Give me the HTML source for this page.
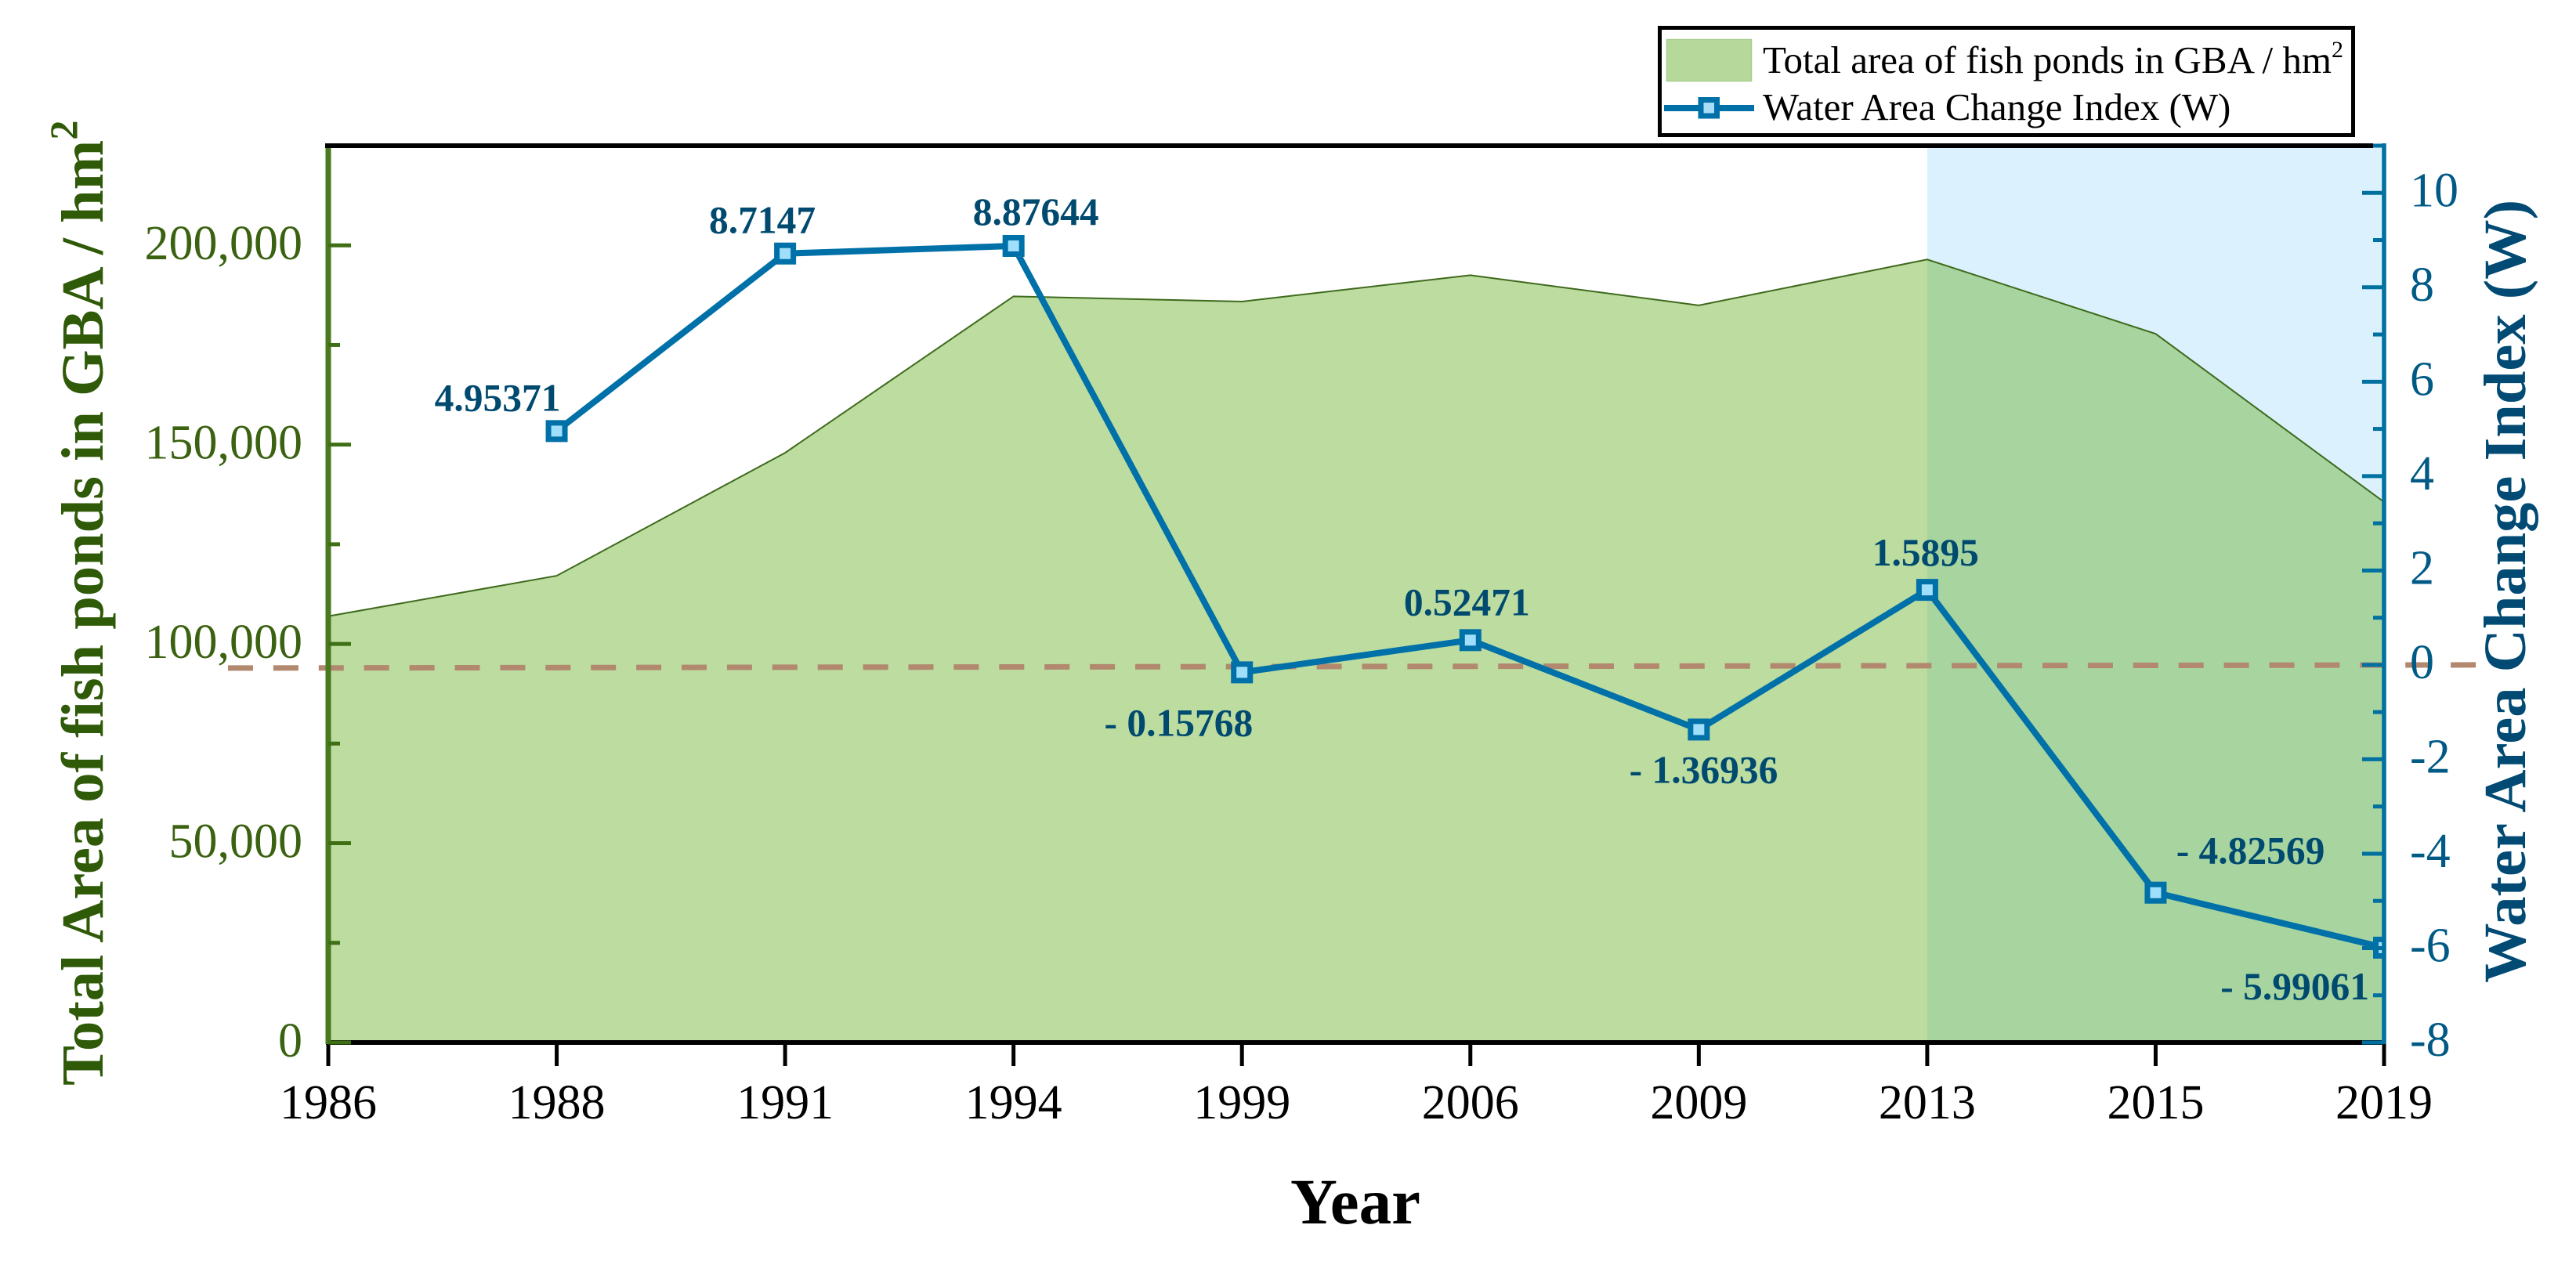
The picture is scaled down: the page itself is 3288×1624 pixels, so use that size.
<!DOCTYPE html>
<html lang="en">
<head>
<meta charset="utf-8">
<title>Fish pond area and Water Area Change Index</title>
<style>
html,body{margin:0;padding:0;background:#fff;width:3288px;height:1624px;overflow:hidden}
svg{display:block}
text{font-family:"Liberation Serif",serif}
</style>
</head>
<body>
<svg id="chart" xmlns="http://www.w3.org/2000/svg" width="3288" height="1624" viewBox="0 0 3288 1624">
<defs><clipPath id="plot-clip"><rect x="415" y="180" width="2628" height="1160"/></clipPath></defs>
<rect x="0" y="0" width="3288" height="1624" fill="#fff"/>
<g id="plot"></g>
<text transform="translate(131,1386) rotate(-90)" font-size="76.5" font-weight="bold" fill="#2f5a08">Total Area of fish ponds in GBA / hm<tspan dy="-33" font-size="50">2</tspan></text>
<text transform="translate(3223,1255) rotate(-90)" font-size="76.5" font-weight="bold" fill="#004a74">Water Area Change Index (W)</text>
<text x="1730" y="1562" text-anchor="middle" font-size="83" font-weight="bold" fill="#000">Year</text>
<g>
<rect x="2118.5" y="35.5" width="885" height="137" fill="#fff" stroke="#000" stroke-width="5"/>
<rect x="2127.5" y="50.5" width="108" height="53" fill="#b6d99b" stroke="#a8cd8e" stroke-width="1.5"/>
<text x="2250" y="93" font-size="49" fill="#000">Total area of fish ponds in GBA / hm<tspan dy="-20" font-size="30">2</tspan></text>
<line x1="2124" y1="138" x2="2239" y2="138" stroke="#0070a8" stroke-width="8"/>
<rect x="2171" y="127.500" width="20.500" height="20.500" fill="#a8dcf9" stroke="#0070a8" stroke-width="7"/>
<text x="2250" y="153" font-size="49" fill="#000">Water Area Change Index (W)</text>
</g>
</svg>
<script>
const years = ['1986','1988','1991','1994','1999','2006','2009','2013','2015','2019'];
const pondArea = [106950,117100,147950,187200,185900,192500,184950,196450,177800,135600];
const waterIndexYears = ['1988','1991','1994','1999','2006','2009','2013','2015','2019'];
const waterIndex = [4.95371,8.7147,8.87644,-0.15768,0.52471,-1.36936,1.5895,-4.82569,-5.99061];
const waterIndexLabels = ['4.95371','8.7147','8.87644','- 0.15768','0.52471','- 1.36936','1.5895','- 4.82569','- 5.99061'];
const leftTickValues = [0,50000,100000,150000,200000];
const leftTickLabels = ['0','50,000','100,000','150,000','200,000'];
const leftMinorValues = [25000,75000,125000,175000];
const rightTickValues = [-8,-6,-4,-2,0,2,4,6,8,10];
const rightTickLabels = ['-8','-6','-4','-2','0','2','4','6','8','10'];
const rightMinorValues = [-7,-5,-3,-1,1,3,5,7,9,11];
const highlightStartYear = '2013';

const PLOT = {left:419, right:3043, top:186, bottom:1331};
const LEFT_DOMAIN = [0,225000];
const RIGHT_DOMAIN = [-8,11];
const NS = 'http://www.w3.org/2000/svg';
const plot = document.getElementById('plot');

function xScale(year){
  return PLOT.left + years.indexOf(year) * (PLOT.right - PLOT.left) / (years.length - 1);
}
function yLeft(v){
  return PLOT.bottom - (v - LEFT_DOMAIN[0]) / (LEFT_DOMAIN[1] - LEFT_DOMAIN[0]) * (PLOT.bottom - PLOT.top);
}
function yRight(v){
  return PLOT.bottom - (v - RIGHT_DOMAIN[0]) / (RIGHT_DOMAIN[1] - RIGHT_DOMAIN[0]) * (PLOT.bottom - PLOT.top);
}
function make(tag, attrs, parent, text){
  const el = document.createElementNS(NS, tag);
  for (const k in attrs) el.setAttribute(k, attrs[k]);
  if (text !== undefined) el.textContent = text;
  (parent || plot).appendChild(el);
  return el;
}

/* highlight band */
const band = make('rect', {x:xScale(highlightStartYear), y:PLOT.top-3, width:PLOT.right-xScale(highlightStartYear), height:PLOT.bottom-PLOT.top+3, fill:'#dbf1fd'});



/* area series */
const areaTop = years.map((y,i) => xScale(y) + ',' + yLeft(pondArea[i]));
const area = make('polygon', {
  points: xScale(years[0]) + ',' + yLeft(0) + ' ' + areaTop.join(' ') + ' ' + xScale(years[years.length-1]) + ',' + yLeft(0),
  fill:'rgb(95,171,29)', 'fill-opacity':'0.42'
});


const areaEdge = make('polyline', {points:areaTop.join(' '), fill:'none', stroke:'#3f6a1c', 'stroke-width':'2'});



/* zero reference line */
const zeroLine = make('line', {x1:291, y1:yRight(0)+4, x2:3191, y2:yRight(0), stroke:'#b2886e', 'stroke-width':'7', 'stroke-dasharray':'32 25.9'});



/* x axis ticks and labels */
years.forEach(y => {
  const tick = make('line', {x1:xScale(y), y1:PLOT.bottom, x2:xScale(y), y2:PLOT.bottom+30, stroke:'#000', 'stroke-width':'5'});
  
  
  const label = make('text', {x:xScale(y), y:1428, 'text-anchor':'middle', 'font-size':'62', fill:'#000'}, plot, y);
  
  
});

/* frame lines */
const topLine = make('line', {x1:415, y1:PLOT.top, x2:3029, y2:PLOT.top, stroke:'#000', 'stroke-width':'6'});


const bottomLine = make('line', {x1:416, y1:PLOT.bottom, x2:3040, y2:PLOT.bottom, stroke:'#000', 'stroke-width':'6'});



/* left axis */
const leftAxis = make('line', {x1:PLOT.left, y1:PLOT.top+3, x2:PLOT.left, y2:PLOT.bottom+2, stroke:'#4a7a1f', 'stroke-width':'7'});


leftTickValues.forEach((v,i) => {
  const tick = make('line', {x1:PLOT.left, y1:yLeft(v), x2:PLOT.left+29, y2:yLeft(v), stroke:'#3f6f14', 'stroke-width':'5'});
  
  
  const label = make('text', {x:386, y:yLeft(v)+18, 'text-anchor':'end', 'font-size':'62', fill:'#3a6210'}, plot, leftTickLabels[i]);
  
  
});
leftMinorValues.forEach(v => {
  const tick = make('line', {x1:PLOT.left, y1:yLeft(v), x2:PLOT.left+15, y2:yLeft(v), stroke:'#3f6f14', 'stroke-width':'5'});
  
  
});

/* water index line + markers, clipped at the right axis */
const series = make('g', {'clip-path':'url(#plot-clip)'});


const waterLine = make('polyline', {
  points: waterIndexYears.map((y,i) => xScale(y) + ',' + yRight(waterIndex[i])).join(' '),
  fill:'none', stroke:'#0070a8', 'stroke-width':'8', 'stroke-linejoin':'round'
}, series);


waterIndexYears.forEach((y,i) => {
  const marker = make('rect', {x:xScale(y)-10.5, y:yRight(waterIndex[i])-10.5, width:21, height:21, fill:'#9fdffc', stroke:'#0070a8', 'stroke-width':'7'}, series);
  
  
});

/* right axis */
rightTickValues.forEach((v,i) => {
  const tick = make('line', {x1:PLOT.right-28, y1:yRight(v), x2:PLOT.right, y2:yRight(v), stroke:'#0070a0', 'stroke-width':'5'});
  
  
  const label = make('text', {x:3076, y:yRight(v)+17, 'font-size':'62', fill:'#005a85'}, plot, rightTickLabels[i]);
  
  
});
rightMinorValues.forEach(v => {
  const tick = make('line', {x1:PLOT.right-14, y1:yRight(v), x2:PLOT.right, y2:yRight(v), stroke:'#0070a0', 'stroke-width':'5'});
  
  
});
const rightAxis = make('line', {x1:PLOT.right, y1:PLOT.top-3, x2:PLOT.right, y2:PLOT.bottom+2, stroke:'#0070a0', 'stroke-width':'5.5'});


const rightAxisStub = make('line', {x1:PLOT.right, y1:PLOT.bottom+2, x2:PLOT.right, y2:PLOT.bottom+30, stroke:'#000', 'stroke-width':'5'});



/* value labels: placed relative to each point (right edge of text) */
const labelPlacement = [
  {dx:5, dy:-26},
  {dx:39, dy:-26},
  {dx:109, dy:-27},
  {dx:14, dy:81},
  {dx:76, dy:-32},
  {dx:101, dy:68},
  {dx:66, dy:-31},
  {dx:216, dy:-37},
  {dx:-19, dy:66}
];
waterIndexYears.forEach((y,i) => {
  const p = labelPlacement[i];
  const label = make('text', {
    x:xScale(y)+p.dx, y:yRight(waterIndex[i])+p.dy, 'text-anchor':'end',
    'font-size':'49.5', 'font-weight':'bold', fill:'#004a70'
  }, plot, waterIndexLabels[i]);
  
  
});
</script>
</body>
</html>
